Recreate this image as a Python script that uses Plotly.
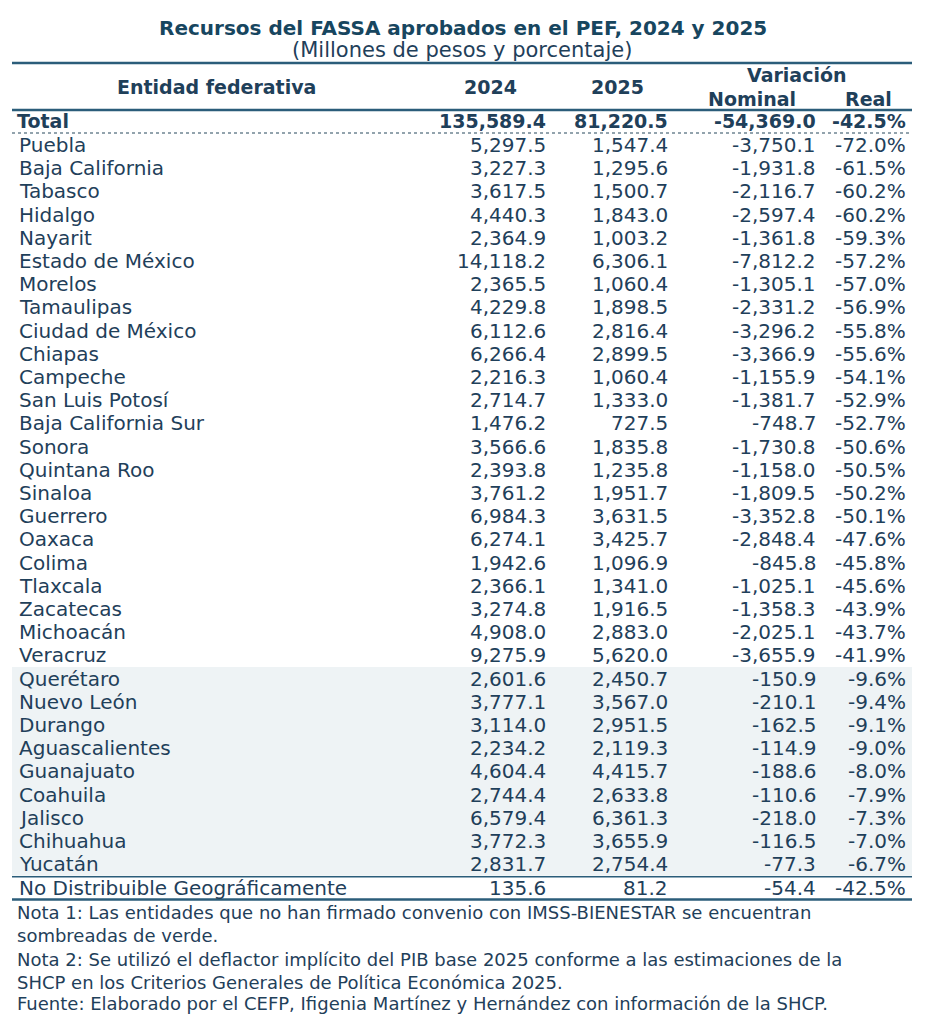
import plotly.graph_objects as go

# ---------------- data ----------------
title = "Recursos del FASSA aprobados en el PEF, 2024 y 2025"
subtitle = "(Millones de pesos y porcentaje)"
col_headers = ["Entidad federativa", "2024", "2025", "Variación", "Nominal", "Real"]

total_label = "Total"
total_2024 = 135589.4
total_2025 = 81220.5
total_nominal = -54369.0
total_real = -42.5

entidades = [
    "Puebla", "Baja California", "Tabasco", "Hidalgo", "Nayarit", "Estado de México",
    "Morelos", "Tamaulipas", "Ciudad de México", "Chiapas", "Campeche", "San Luis Potosí",
    "Baja California Sur", "Sonora", "Quintana Roo", "Sinaloa", "Guerrero", "Oaxaca",
    "Colima", "Tlaxcala", "Zacatecas", "Michoacán", "Veracruz",
    "Querétaro", "Nuevo León", "Durango", "Aguascalientes", "Guanajuato", "Coahuila",
    "Jalisco", "Chihuahua", "Yucatán",
]
v2024 = [5297.5, 3227.3, 3617.5, 4440.3, 2364.9, 14118.2, 2365.5, 4229.8, 6112.6, 6266.4,
         2216.3, 2714.7, 1476.2, 3566.6, 2393.8, 3761.2, 6984.3, 6274.1, 1942.6, 2366.1,
         3274.8, 4908.0, 9275.9,
         2601.6, 3777.1, 3114.0, 2234.2, 4604.4, 2744.4, 6579.4, 3772.3, 2831.7]
v2025 = [1547.4, 1295.6, 1500.7, 1843.0, 1003.2, 6306.1, 1060.4, 1898.5, 2816.4, 2899.5,
         1060.4, 1333.0, 727.5, 1835.8, 1235.8, 1951.7, 3631.5, 3425.7, 1096.9, 1341.0,
         1916.5, 2883.0, 5620.0,
         2450.7, 3567.0, 2951.5, 2119.3, 4415.7, 2633.8, 6361.3, 3655.9, 2754.4]
nominal = [-3750.1, -1931.8, -2116.7, -2597.4, -1361.8, -7812.2, -1305.1, -2331.2, -3296.2,
           -3366.9, -1155.9, -1381.7, -748.7, -1730.8, -1158.0, -1809.5, -3352.8, -2848.4,
           -845.8, -1025.1, -1358.3, -2025.1, -3655.9,
           -150.9, -210.1, -162.5, -114.9, -188.6, -110.6, -218.0, -116.5, -77.3]
real = [-72.0, -61.5, -60.2, -60.2, -59.3, -57.2, -57.0, -56.9, -55.8, -55.6, -54.1, -52.9,
        -52.7, -50.6, -50.5, -50.2, -50.1, -47.6, -45.8, -45.6, -43.9, -43.7, -41.9,
        -9.6, -9.4, -9.1, -9.0, -8.0, -7.9, -7.3, -7.0, -6.7]
# entities without IMSS-BIENESTAR agreement (shaded)
sombreadas = ["Querétaro", "Nuevo León", "Durango", "Aguascalientes", "Guanajuato",
              "Coahuila", "Jalisco", "Chihuahua", "Yucatán"]

nd_label = "No Distribuible Geográficamente"
nd_2024 = 135.6
nd_2025 = 81.2
nd_nominal = -54.4
nd_real = -42.5

notas = [
    "Nota 1: Las entidades que no han firmado convenio con IMSS-BIENESTAR se encuentran",
    "sombreadas de verde.",
    "Nota 2: Se utilizó el deflactor implícito del PIB base 2025 conforme a las estimaciones de la",
    "SHCP en los Criterios Generales de Política Económica 2025.",
    "Fuente: Elaborado por el CEFP, Ifigenia Martínez y Hernández con información de la SHCP.",
]

# ---------------- styling ----------------
W, H = 939, 1024
PAD = 8  # default page body margin; coordinates below are page pixels
FONT = "DejaVu Sans"
TXT = "#1f405a"
TITLE_C = "#17465f"
LINE_C = "#2b5d7a"
SHADE = "#eef3f5"
X_LEFT, X_RIGHT = 12, 912
X_NAME = 17
X_2024, X_2025, X_NOM, X_REAL = 548, 670, 818, 908
Y_TOTAL = 121
Y_FIRST = 145
STEP = 23.2
FS = 20


def fmt(v, dec=1):
    s = f"{abs(v):,.{dec}f}"
    return ("-" + s) if v < 0 else s


fig = go.Figure()
ann = []
shapes = []


def text(x, y, s, size=FS, bold=False, anchor="left", color=TXT):
    ann.append(dict(x=x, y=y, xref="x", yref="y", text=(f"<b>{s}</b>" if bold else s),
                    showarrow=False, xanchor=anchor, yanchor="middle",
                    font=dict(family=FONT, size=size, color=color)))


def hline(y, width=2, dash="solid", color=LINE_C):
    shapes.append(dict(type="line", xref="x", yref="y", x0=X_LEFT, x1=X_RIGHT, y0=y, y1=y,
                       line=dict(color=color, width=width, dash=dash)))


# title
text(463, 28, title, size=20, bold=True, anchor="center", color=TITLE_C)
text(462, 50, subtitle, size=21, anchor="center", color=TXT)
hline(63, 2.5)

# header
HS = 19
text(216, 87, col_headers[0], size=HS, bold=True, anchor="center")
text(490, 87, col_headers[1], size=HS, bold=True, anchor="center")
text(617, 87, col_headers[2], size=HS, bold=True, anchor="center")
text(797, 75, col_headers[3], size=HS, bold=True, anchor="center")
text(752, 99, col_headers[4], size=HS, bold=True, anchor="center")
text(868, 99, col_headers[5], size=HS, bold=True, anchor="center")
hline(110, 2.5)

# total
TS = 19
text(X_NAME - 2, Y_TOTAL, total_label, size=TS, bold=True)
text(X_2024, Y_TOTAL, fmt(total_2024), size=TS, bold=True, anchor="right")
text(X_2025, Y_TOTAL, fmt(total_2025), size=TS, bold=True, anchor="right")
text(X_NOM, Y_TOTAL, fmt(total_nominal), size=TS, bold=True, anchor="right")
text(X_REAL, Y_TOTAL, fmt(total_real) + "%", size=TS, bold=True, anchor="right")
hline(133, 1.5, dash="dot", color="#6f8593")

# shading
ys = [Y_FIRST + i * STEP for i in range(len(entidades))]
shaded_idx = [i for i, e in enumerate(entidades) if e in sombreadas]
if shaded_idx:
    shapes.insert(0, dict(type="rect", xref="x", yref="y", x0=X_LEFT, x1=X_RIGHT,
                          y0=ys[shaded_idx[0]] - STEP / 2, y1=ys[shaded_idx[-1]] + STEP / 2,
                          fillcolor=SHADE, line=dict(width=0), layer="below"))

for i, e in enumerate(entidades):
    y = ys[i]
    text(X_NAME, y, e)
    text(X_2024, y, fmt(v2024[i]), anchor="right")
    text(X_2025, y, fmt(v2025[i]), anchor="right")
    text(X_NOM, y, fmt(nominal[i]), anchor="right")
    text(X_REAL, y, fmt(real[i]) + "%", anchor="right")

y_last = ys[-1]
hline(y_last + STEP / 2 + 1, 1.5)
y_nd = y_last + STEP + 1
text(X_NAME, y_nd, nd_label)
text(X_2024, y_nd, fmt(nd_2024), anchor="right")
text(X_2025, y_nd, fmt(nd_2025), anchor="right")
text(X_NOM, y_nd, fmt(nd_nominal), anchor="right")
text(X_REAL, y_nd, fmt(nd_real) + "%", anchor="right")
hline(y_nd + 11, 2.5)

note_y = [912, 935, 959, 982, 1003]
for s, y in zip(notas, note_y):
    text(X_NAME - 2, y, s, size=18)

fig.update_layout(
    width=W - 2 * PAD, height=H - 2 * PAD, margin=dict(l=0, r=0, t=0, b=0),
    paper_bgcolor="white", plot_bgcolor="white",
    xaxis=dict(range=[PAD, W - PAD], visible=False, fixedrange=True),
    yaxis=dict(range=[H - PAD, PAD], visible=False, fixedrange=True),
    annotations=ann, shapes=shapes, showlegend=False,
)
fig.write_html("out.html")
